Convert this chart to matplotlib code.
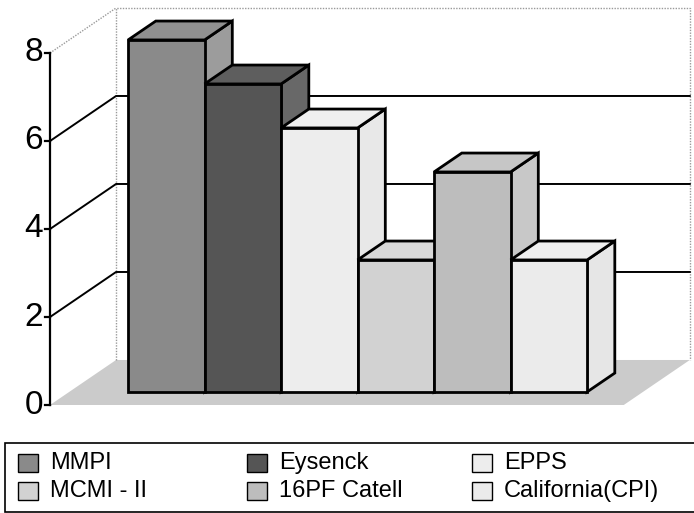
import numpy as np
import matplotlib
matplotlib.use('Agg')
import matplotlib.pyplot as plt
from matplotlib.patches import Polygon, Rectangle

plt.rcParams['font.family'] = ['Liberation Sans', 'DejaVu Sans']

# data
labels = ['MMPI', 'Eysenck', 'EPPS', 'MCMI - II', '16PF Catell', 'California(CPI)']
values = [8, 7, 6, 3, 5, 3]
yticks = [0, 2, 4, 6, 8]
grid_vals = [2, 4, 6]

# face colours (front, top, side) per bar
front_cols = ['#8a8a8a', '#555555', '#ededed', '#d2d2d2', '#bdbdbd', '#ebebeb']
top_cols = ['#909090', '#5e5e5e', '#efefef', '#d8d8d8', '#c6c6c6', '#eeeeee']
side_cols = ['#9c9c9c', '#686868', '#e8e8e8', '#d6d6d6', '#c8c8c8', '#e6e6e6']

# oblique projection: depth z in [0, 1] shifts right and up
DX, DY = 0.863, 1.023
Z0, Z1 = 0.29, 0.71          # bar depth range
X0, BW = 0.77, 1.0           # first bar start, bar width
FLOOR_W = 7.5
YMAX = 8


def proj(x, v, z):
    return (x + z * DX, v + z * DY)


fig = plt.figure(figsize=(6.94, 5.13), dpi=100)
ax = fig.add_axes([0, 0, 1, 1])
ax.set_xlim(-0.654, 8.418)
ax.set_ylim(-2.4545, 9.2045)
ax.axis('off')

# floor
floor = [proj(0, 0, 0), proj(FLOOR_W, 0, 0), proj(FLOOR_W, 0, 1), proj(0, 0, 1)]
ax.add_patch(Polygon(floor, closed=True, facecolor='#cbcbcb', edgecolor='none', zorder=1))

# walls outline (dotted grey)
wall_col = '#9a9a9a'
pts = [proj(0, 0, 1), proj(0, YMAX, 1), proj(FLOOR_W, YMAX, 1), proj(FLOOR_W, 0, 1)]
ax.plot([p[0] for p in pts], [p[1] for p in pts], ls=(0, (1, 1)), color=wall_col, lw=1, zorder=1)
pts = [proj(0, YMAX, 0), proj(0, YMAX, 1)]
ax.plot([p[0] for p in pts], [p[1] for p in pts], ls=(0, (1, 1)), color=wall_col, lw=1, zorder=1)

# gridlines: side wall diagonal + back wall horizontal
for g in grid_vals:
    pts = [proj(0, g, 0), proj(0, g, 1), proj(FLOOR_W, g, 1)]
    ax.plot([p[0] for p in pts], [p[1] for p in pts], color='black', lw=1.4, zorder=2)

# front value axis
ax.plot([0, 0], [0, YMAX], color='black', lw=1.6, zorder=3)
for t in yticks:
    ax.plot([-0.07, 0], [t, t], color='black', lw=1.6, zorder=3)
    ax.text(-0.09, t, str(t), ha='right', va='center', fontsize=24, zorder=3)

# bars, drawn left to right so later bars cover earlier side faces
for i, val in enumerate(values):
    xl = X0 + i * BW
    xr = xl + BW
    side = [proj(xr, 0, Z0), proj(xr, 0, Z1), proj(xr, val, Z1), proj(xr, val, Z0)]
    top = [proj(xl, val, Z0), proj(xr, val, Z0), proj(xr, val, Z1), proj(xl, val, Z1)]
    front = [proj(xl, 0, Z0), proj(xr, 0, Z0), proj(xr, val, Z0), proj(xl, val, Z0)]
    z = 5 + i
    for poly, col in ((side, side_cols[i]), (top, top_cols[i]), (front, front_cols[i])):
        ax.add_patch(Polygon(poly, closed=True, facecolor=col, edgecolor='black',
                             lw=2, joinstyle='miter', zorder=z))

# legend box (3 columns x 2 rows, Excel style)
W, H = 694.0, 513.0
fig.add_artist(Rectangle((5 / W, 1 - 512 / H), 700 / W, 69 / H, transform=fig.transFigure,
                         facecolor='white', edgecolor='black', lw=1.2))
col_x = [18, 247, 472]
row_y = [463, 491]
for k, lab in enumerate(labels):
    r, c = divmod(k, 3)
    sx, sy = col_x[c], row_y[r]
    fig.add_artist(Rectangle((sx / W, 1 - (sy + 9) / H), 20 / W, 18 / H,
                             transform=fig.transFigure, facecolor=front_cols[k],
                             edgecolor='black', lw=1))
    fig.text((sx + 32) / W, 1 - sy / H, lab, ha='left', va='center', fontsize=17)

fig.savefig('out.png', dpi=100)
